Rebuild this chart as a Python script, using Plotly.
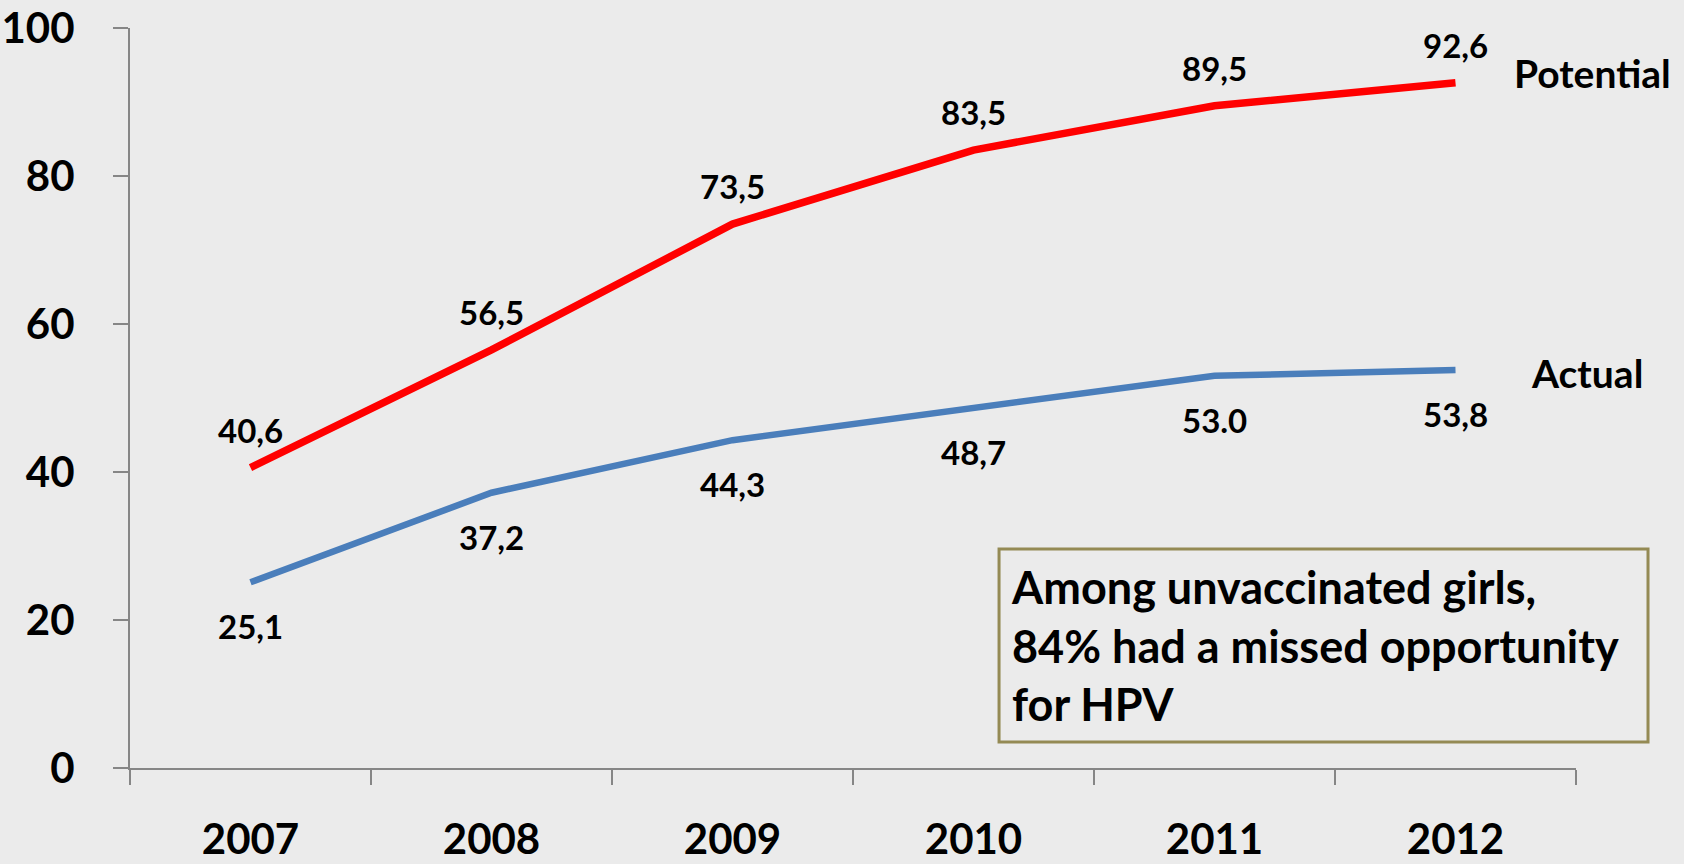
import plotly.graph_objects as go

years = ["2007", "2008", "2009", "2010", "2011", "2012"]
potential = [40.6, 56.5, 73.5, 83.5, 89.5, 92.6]
actual = [25.1, 37.2, 44.3, 48.7, 53.0, 53.8]
potential_labels = ["40,6", "56,5", "73,5", "83,5", "89,5", "92,6"]
actual_labels = ["25,1", "37,2", "44,3", "48,7", "53.0", "53,8"]
y_ticks = [0, 20, 40, 60, 80, 100]
box_text = "Among unvaccinated girls,<br>84% had a missed opportunity<br>for HPV"

FONT = "Lato"
BG = "#ebebeb"
AXIS = "#868686"

fig = go.Figure()
fig.add_trace(go.Scatter(x=years, y=potential, mode="lines", name="Potential",
                         line=dict(color="#ff0000", width=7.5)))
fig.add_trace(go.Scatter(x=years, y=actual, mode="lines", name="Actual",
                         line=dict(color="#4a7ebb", width=6.5)))

annotations = []
for i, (y, t) in enumerate(zip(potential, potential_labels)):
    annotations.append(dict(x=i, y=y, text="<b>" + t + "</b>", showarrow=False, yshift=38,
                            font=dict(family=FONT, size=33, color="black")))
for i, (y, t) in enumerate(zip(actual, actual_labels)):
    annotations.append(dict(x=i, y=y, text="<b>" + t + "</b>", showarrow=False, yshift=-44,
                            font=dict(family=FONT, size=33, color="black")))

last = len(years) - 1
annotations.append(dict(x=last, y=potential[-1], text="<b>Potential</b>", showarrow=False,
                        xshift=137, yshift=10,
                        font=dict(family=FONT, size=39, color="black")))
annotations.append(dict(x=last, y=actual[-1], text="<b>Actual</b>", showarrow=False,
                        xshift=131, yshift=-3,
                        font=dict(family=FONT, size=39, color="black")))

annotations.append(dict(xref="paper", yref="paper", x=0.608, y=0.1655,
                        xanchor="left", yanchor="middle", align="left",
                        text="<b>" + box_text + "</b>", showarrow=False,
                        font=dict(family=FONT, size=45, color="black")))

fig.add_shape(type="rect", xref="paper", yref="paper",
              x0=0.601, x1=1.0498, y0=0.0351, y1=0.296,
              line=dict(color="#948a54", width=3), fillcolor="rgba(0,0,0,0)")

fig.update_layout(
    width=1684, height=864,
    margin=dict(l=130, r=108, t=28, b=96, autoexpand=False),
    paper_bgcolor=BG, plot_bgcolor=BG,
    showlegend=False,
    annotations=annotations,
    xaxis=dict(type="category", categoryorder="array", categoryarray=years,
               range=[-0.5, len(years) - 0.5], tickson="boundaries", automargin=False,
               ticks="outside", ticklen=15, tickangle=0,
               tickwidth=2, tickcolor=AXIS, showline=True, linecolor=AXIS, linewidth=2,
               showgrid=False, zeroline=False, ticklabelstandoff=34,
               tickfont=dict(family=FONT, size=42, color="black", weight="bold")),
    yaxis=dict(range=[0, 100], tickvals=y_ticks, ticks="outside", ticklen=15, automargin=False,
               tickwidth=2, tickcolor=AXIS, showline=True, linecolor=AXIS, linewidth=2,
               showgrid=False, zeroline=False, ticklabelstandoff=30,
               tickfont=dict(family=FONT, size=42, color="black", weight="bold")),
)

fig.write_html("out.html")
